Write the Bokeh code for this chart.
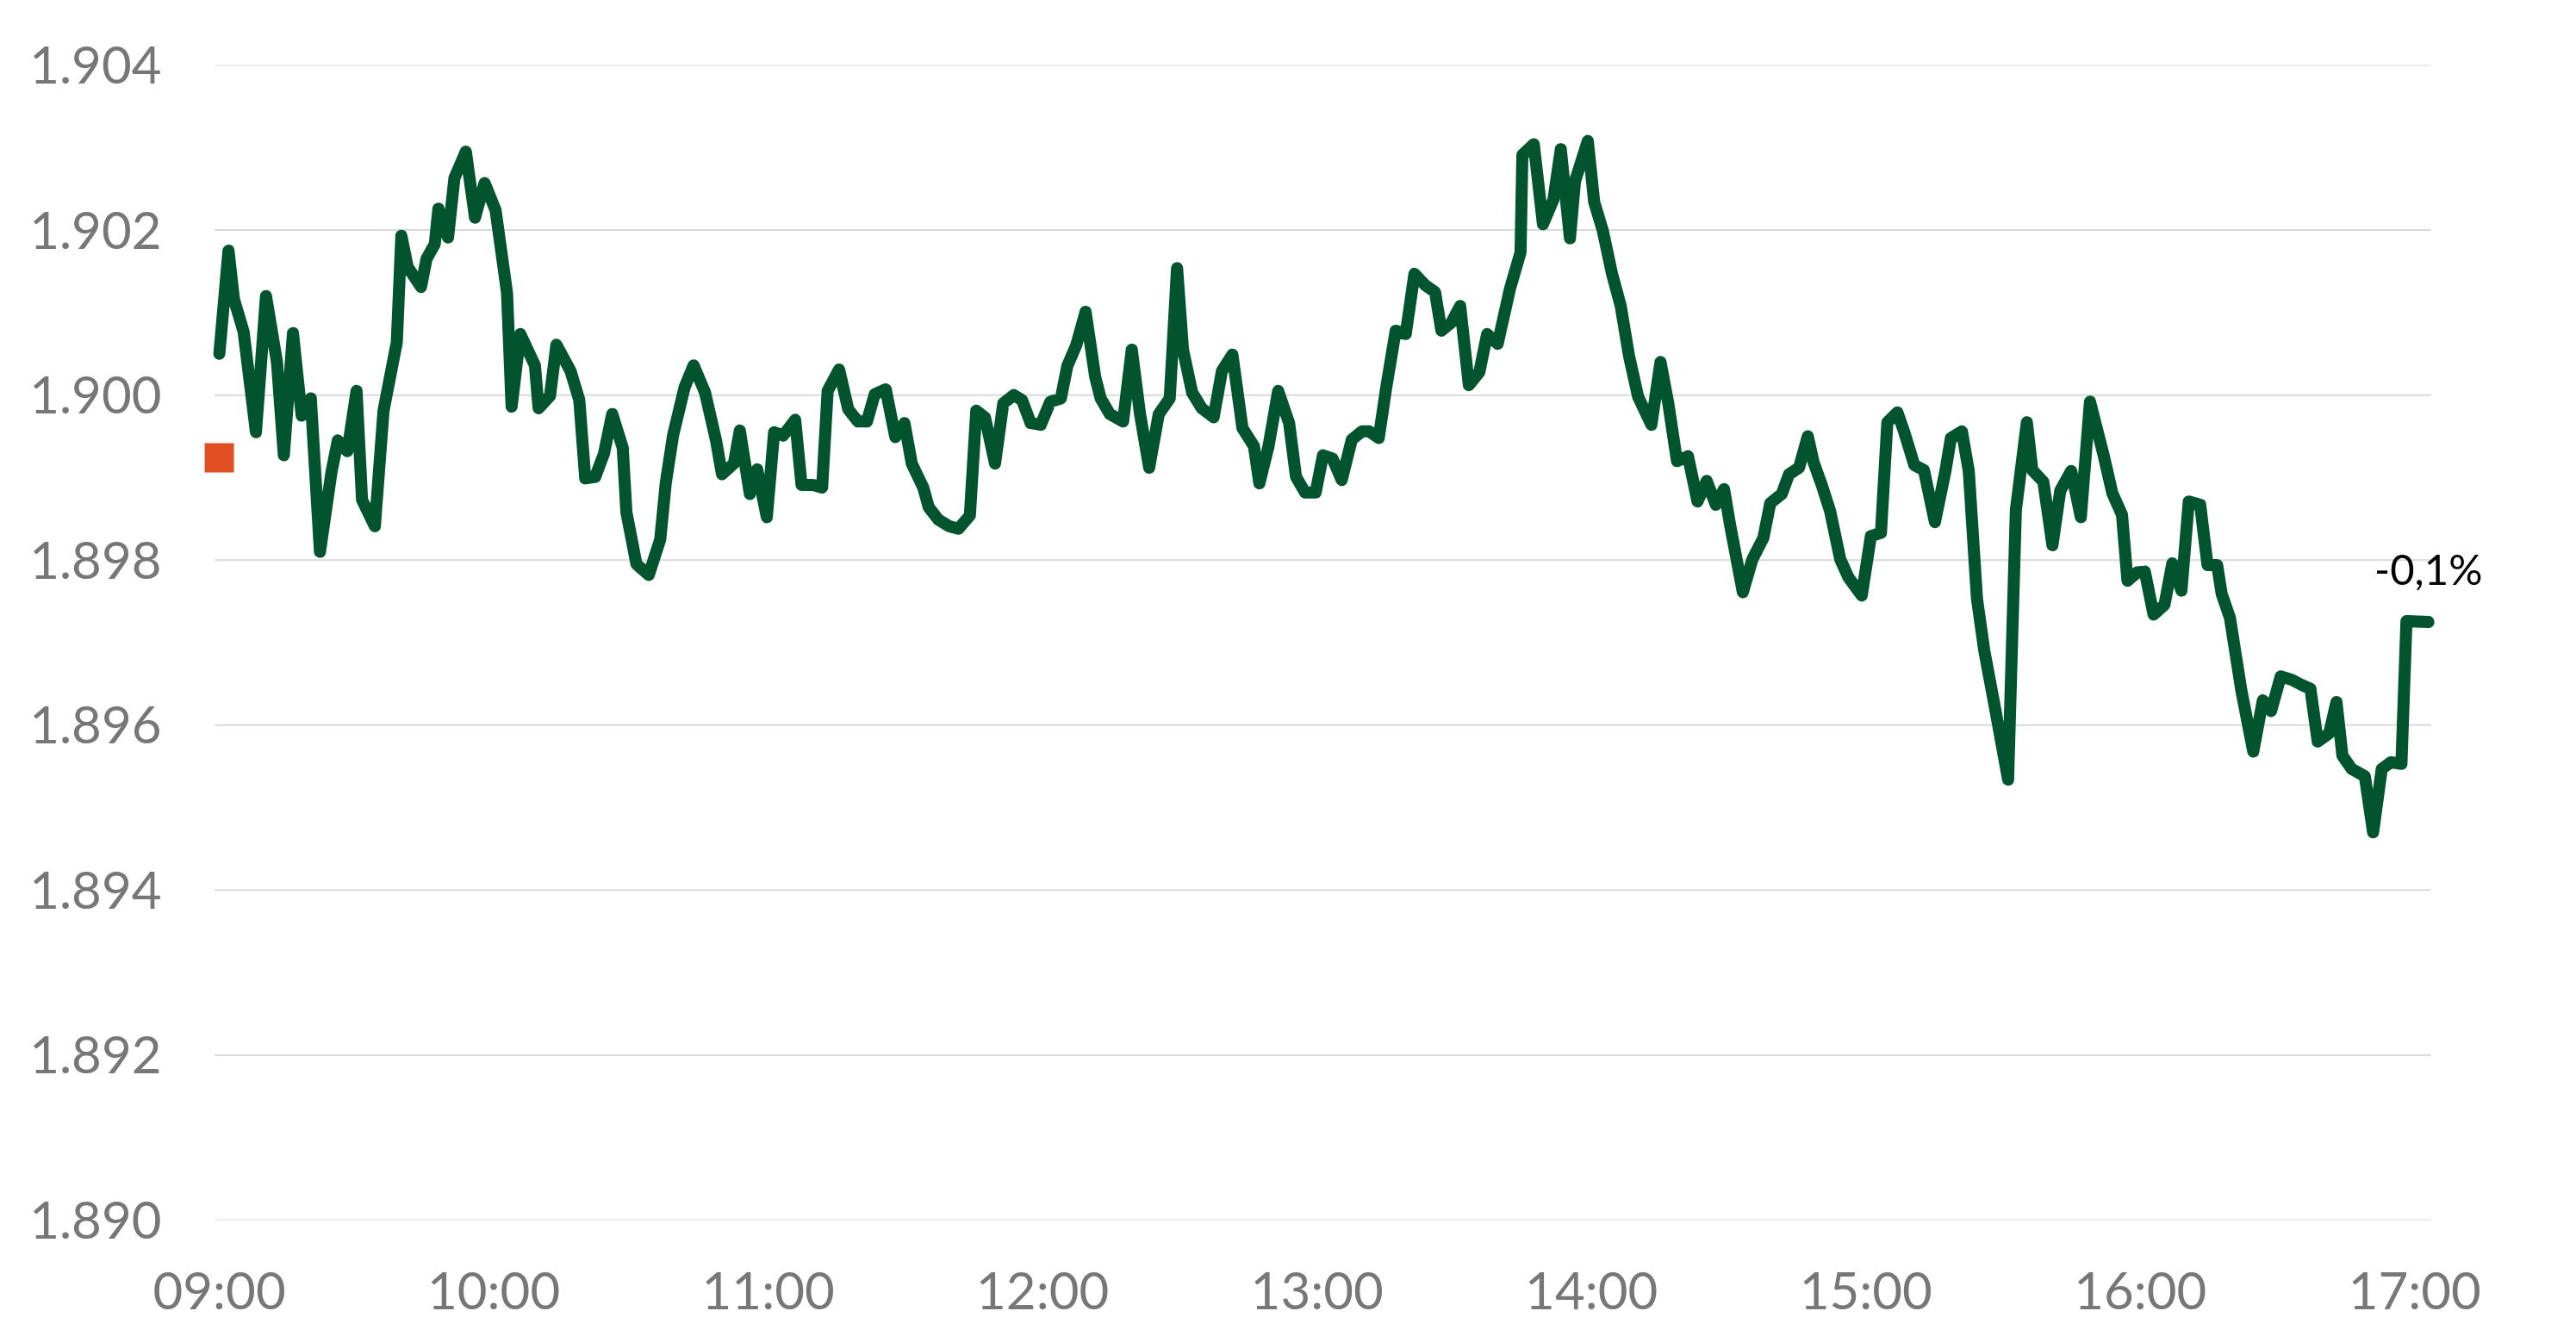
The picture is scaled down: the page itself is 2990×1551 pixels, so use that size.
from bokeh.plotting import figure
from bokeh.models import Range1d, FixedTicker, NumeralTickFormatter, Label
from bokeh.embed import file_html
from bokeh.resources import INLINE

# minutes after 09:00
times = [0, 2.0, 3.2, 5.3, 8.0, 10.2, 12.6, 14.1, 16.1, 18.0, 20.0, 22.0, 24.5, 25.9, 28.0, 30.0, 31.2, 34.0, 35.9,
         38.8, 39.8, 41.2, 44.1, 45.3, 47.1, 47.9, 50.0, 51.4, 53.9, 55.9, 58.0, 60.4, 62.9, 63.9, 65.8, 69.0, 69.8,
         72.3, 73.7, 76.8, 78.7, 80.0, 82.2, 84.1, 85.9, 88.2, 89.0, 91.2, 93.9, 96.4, 97.6, 99.2, 101.7, 103.7,
         106.2, 108.6, 109.9, 112.5, 113.8, 116.0, 117.6, 119.7, 121.3,
         123.3, 125.9, 127.3, 129.8, 131.8, 133.0, 135.5, 137.5, 139.6, 141.6, 143.3, 145.7, 147.8, 149.8, 151.4,
         153.9, 155.1, 157.2, 159.6, 161.6, 164.1, 165.5, 167.4, 169.6, 171.4, 173.7, 175.5, 177.4, 179.6, 181.7,
         184.0, 185.4, 187.4, 189.4, 191.5, 192.7, 194.7, 197.6, 199.5, 201.3, 203.3, 205.4, 207.8, 209.4, 210.7,
         212.7, 214.8, 217.4, 219.2, 221.5, 223.7, 226.2, 227.4, 229.4, 231.5, 233.9, 235.4, 237.4, 239.7, 241.3,
         243.4, 245.4,
         247.6, 249.8, 251.4, 253.5, 255.1, 257.2, 259.4, 261.3, 263.7, 265.8, 267.2, 269.4, 271.3, 273.2, 275.5,
         277.2, 279.5, 282.2, 284.5, 284.9, 287.4, 289.4, 291.7, 293.3, 295.3, 296.4, 299.2, 300.6, 302.5, 304.5,
         306.4, 308.2, 310.2, 313.1, 315.1, 316.8, 318.7, 321.1, 323.2, 325.2, 327.2, 329.0, 330.3, 333.1, 335.2,
         337.6, 339.1, 341.6, 343.2, 345.4, 347.3, 348.6, 350.3, 352.2, 354.4, 356.2, 359.1, 361.1, 363.3,
         364.7, 366.9, 368.4, 370.6, 372.7, 375.1, 377.4, 378.6, 381.0, 382.5, 384.3, 385.9, 388.2, 391.1, 392.8,
         395.2, 396.4, 398.8, 400.8, 402.5, 404.9, 407.0, 409.0, 411.9, 413.9, 416.0, 417.2, 419.3, 421.0, 422.9,
         425.3, 427.0, 429.0, 430.6, 433.1, 434.7, 436.8, 437.8, 439.6, 442.1, 444.7, 446.8, 448.6, 450.7, 453.1,
         455.2, 457.2, 458.8, 461.3, 462.9, 464.2, 466.2, 469.1, 470.9, 472.8, 474.8, 477.1, 478.2, 483.0]

prices = [1.90050, 1.90175, 1.90116, 1.90077, 1.89955, 1.90120, 1.90040, 1.89927, 1.90075, 1.89975, 1.89996,
          1.89810, 1.89906, 1.89945, 1.89932, 1.90005, 1.89873, 1.89841, 1.89981, 1.90064, 1.90193, 1.90155,
          1.90131, 1.90165, 1.90183, 1.90226, 1.90191, 1.90263, 1.90295, 1.90215, 1.90257, 1.90224, 1.90124,
          1.89986, 1.90074, 1.90036, 1.89984, 1.89999, 1.90061, 1.90029, 1.89994, 1.89899, 1.89901, 1.89929,
          1.89977, 1.89936, 1.89858, 1.89795, 1.89782, 1.89825, 1.89893, 1.89951, 1.90009, 1.90036, 1.90003,
          1.89945, 1.89904, 1.89917, 1.89957, 1.89880, 1.89910, 1.89852, 1.89955,
          1.89951, 1.89970, 1.89891, 1.89891, 1.89888, 1.90005, 1.90031, 1.89983, 1.89968, 1.89968, 1.90001,
          1.90007, 1.89949, 1.89966, 1.89917, 1.89888, 1.89864, 1.89849, 1.89841, 1.89838, 1.89854, 1.89981,
          1.89973, 1.89917, 1.89990, 1.90000, 1.89994, 1.89966, 1.89964, 1.89992, 1.89996, 1.90035, 1.90061,
          1.90101, 1.90022, 1.89996, 1.89977, 1.89968, 1.90055, 1.89977, 1.89912, 1.89977, 1.89996, 1.90154,
          1.90055, 1.90003, 1.89984, 1.89973, 1.90029, 1.90049, 1.89960, 1.89938, 1.89893, 1.89938, 1.90005,
          1.89966, 1.89901, 1.89882, 1.89882, 1.89927, 1.89923, 1.89897,
          1.89946, 1.89956, 1.89956, 1.89948, 1.90008, 1.90078, 1.90074, 1.90147, 1.90133, 1.90125, 1.90078,
          1.90088, 1.90108, 1.90012, 1.90028, 1.90074, 1.90062, 1.90129, 1.90173, 1.90291, 1.90304, 1.90207,
          1.90237, 1.90298, 1.90190, 1.90259, 1.90308, 1.90234, 1.90199, 1.90147, 1.90108, 1.90048, 1.89998,
          1.89964, 1.90040, 1.89990, 1.89920, 1.89926, 1.89871, 1.89896, 1.89867, 1.89886, 1.89843, 1.89761,
          1.89801, 1.89827, 1.89869, 1.89880, 1.89904, 1.89912, 1.89950, 1.89918, 1.89892, 1.89859, 1.89801,
          1.89779, 1.89757, 1.89829, 1.89833,
          1.89967, 1.89979, 1.89955, 1.89915, 1.89909, 1.89846, 1.89908, 1.89948, 1.89956, 1.89908, 1.89753,
          1.89690, 1.89622, 1.89534, 1.89861, 1.89967, 1.89909, 1.89895, 1.89818, 1.89884, 1.89908, 1.89852,
          1.89992, 1.89929, 1.89881, 1.89855, 1.89775, 1.89785, 1.89786, 1.89734, 1.89746, 1.89796, 1.89763,
          1.89871, 1.89867, 1.89794, 1.89794, 1.89759, 1.89730, 1.89642, 1.89568, 1.89630, 1.89617, 1.89659,
          1.89655, 1.89649, 1.89644, 1.89580, 1.89590, 1.89628, 1.89563, 1.89547, 1.89538, 1.89470, 1.89547,
          1.89555, 1.89553, 1.89726, 1.89725]

ref_time = [0]
ref_price = [1.89924]

y_ticks = [1.890, 1.892, 1.894, 1.896, 1.898, 1.900, 1.902, 1.904]
x_ticks = [0, 60, 120, 180, 240, 300, 360, 420, 480]
x_tick_labels = ["09:00", "10:00", "11:00", "12:00", "13:00", "14:00", "15:00", "16:00", "17:00"]
end_label = ["-0,1%"]

# extent of the horizontal gridlines (minutes after 09:00)
GRID_START, GRID_END = -1, 483.5

FONT = "Lato"
GREY = "#777777"

p = figure(width=2974, height=1535, output_backend="svg", toolbar_location=None,
           x_range=Range1d(-10, 505), y_range=Range1d(1.890, 1.904),
           min_border_left=201, min_border_right=39, min_border_top=75, min_border_bottom=117)
p.outline_line_color = None
p.background_fill_color = "white"
p.border_fill_color = "white"

p.xgrid.grid_line_color = None
p.ygrid.grid_line_color = None

p.yaxis.ticker = FixedTicker(ticks=y_ticks)
p.yaxis.formatter = NumeralTickFormatter(format="0.000")
p.xaxis.ticker = FixedTicker(ticks=x_ticks)
p.xaxis.major_label_overrides = {t: l for t, l in zip(x_ticks, x_tick_labels)}

for ax in (p.xaxis[0], p.yaxis[0]):
    ax.axis_line_color = None
    ax.major_tick_line_color = None
    ax.minor_tick_line_color = None
    ax.major_tick_out = 0
    ax.major_tick_in = 0
    ax.major_label_text_font = FONT
    ax.major_label_text_font_size = "60px"
    ax.major_label_text_color = GREY
p.yaxis.major_label_standoff = 14
p.xaxis.major_label_standoff = 44

n = len(y_ticks)
p.segment(x0=[GRID_START] * n, x1=[GRID_END] * n, y0=y_ticks, y1=y_ticks,
          line_color="#d9d9d9", line_width=2)

p.line(times, prices, line_color="#02542f", line_width=14, line_join="round", line_cap="round")
p.scatter(ref_time, ref_price, marker="square", size=34, fill_color="#e04e23", line_color=None)

p.add_layout(Label(x=times[-1], y=prices[-1], text=end_label[0], text_font=FONT, text_font_size="49px",
                   text_color="#000000", text_align="center", text_baseline="alphabetic", y_offset=62))

open("out.html", "w").write(file_html(p, INLINE))
